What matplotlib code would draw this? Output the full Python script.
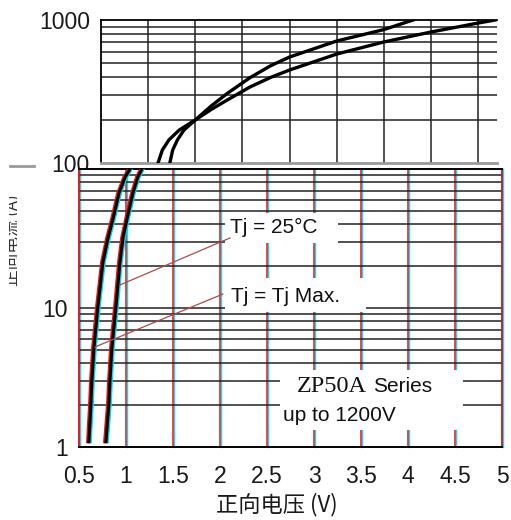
import numpy as np
import matplotlib
matplotlib.use('Agg')
import matplotlib.pyplot as plt
import matplotlib.transforms as mtransforms
from matplotlib.patches import Rectangle
from matplotlib.lines import Line2D

plt.rcParams['font.family'] = ['Liberation Sans', 'DejaVu Sans']

# Forward characteristic, 1 A .. 100 A section  (current in A, forward voltage in V)
i_25_low = [1.09, 2.07, 3.03, 5.2, 10.3, 21.4, 31.9, 43.7, 67, 87, 100]
v_25_low = [0.787, 0.819, 0.83, 0.851, 0.894, 0.936, 0.968, 1.011, 1.074, 1.125, 1.17]
i_max_low = [1.09, 2.07, 3.03, 5.2, 10.3, 21.4, 31.9, 43.7, 67, 87, 100]
v_max_low = [0.606, 0.628, 0.638, 0.66, 0.702, 0.755, 0.809, 0.862, 0.926, 0.99, 1.043]

# Forward characteristic, 100 A .. 1000 A section
i_25_high = [100, 123, 145, 170, 200, 251, 307, 395, 479, 551, 713, 857, 1000]
v_25_high = [1.23, 1.26, 1.31, 1.38, 1.50, 1.67, 1.84, 2.08, 2.3, 2.5, 3.0, 3.5, 3.81]
i_max_high = [100, 123, 145, 170, 200, 237, 276, 340, 397, 447, 578, 702, 824, 952, 1000]
v_max_high = [1.105, 1.15, 1.22, 1.33, 1.50, 1.67, 1.84, 2.08, 2.3, 2.5, 3.0, 3.5, 4.0, 4.5, 4.68]

x_ticks = [0.5, 1, 1.5, 2, 2.5, 3, 3.5, 4, 4.5, 5]
x_ticklabels = ['0.5', '1', '1.5', '2', '2.5', '3', '3.5', '4', '4.5', '5']
v_grid = [1.0, 1.5, 2.0, 2.5, 3.0, 3.5, 4.0, 4.5]
i_grid_low = [2, 3, 4, 5, 6, 7, 8, 9, 10, 20, 30, 40, 50, 60, 70, 80, 90]
i_grid_high = [200, 300, 400, 500, 600, 700, 800, 900]

W, H = 511, 520
fig = plt.figure(figsize=(W / 100, H / 100), dpi=100)

def px_axes(x0, y0, x1, y1):
    return fig.add_axes([x0 / W, (H - y1) / H, (x1 - x0) / W, (y1 - y0) / H])

FS = 16.5
GRID_LW = 1.1

# ---- upper part, 100 A .. 1000 A ----
axt = px_axes(101, 20, 497, 163)
axt.set_yscale('log')
axt.set_xlim(0.5, 4.70)
axt.set_ylim(100, 1000)
for v in v_grid:
    axt.axvline(v, color='#222222', lw=GRID_LW, zorder=1)
for c in i_grid_high:
    axt.axhline(c, color='#222222', lw=GRID_LW, zorder=1)
axt.plot(v_25_high, i_25_high, color='black', lw=2.4, zorder=3, solid_joinstyle='round')
axt.plot(v_max_high, i_max_high, color='black', lw=2.4, zorder=3, solid_joinstyle='round')
axt.set_xticks([])
axt.set_yticks([100, 1000])
axt.set_yticklabels(['100', '1000'])
axt.yaxis.set_minor_locator(matplotlib.ticker.NullLocator())
axt.tick_params(axis='y', length=0, pad=8, labelsize=FS, labelcolor='#1a1a1a')
axt.spines['right'].set_visible(False)
axt.spines['bottom'].set_color('#9a9a9a')
axt.spines['bottom'].set_linewidth(2)
for s in ['left', 'top']:
    axt.spines[s].set_linewidth(1.3)

# ---- lower part, 1 A .. 100 A ----
ax = px_axes(79, 169, 502, 447)
ax.set_yscale('log')
ax.set_xlim(0.5, 5)
ax.set_ylim(1, 100)

cyan_tr = mtransforms.offset_copy(ax.get_xaxis_transform(), fig=fig, x=1.3, y=0, units='dots')
for v in v_grid + [0.5, 5.0]:
    ax.plot([v, v], [0, 1], transform=cyan_tr, color='#00e5ee', lw=1.0, zorder=1, clip_on=False)
    ax.plot([v, v], [0, 1], transform=ax.get_xaxis_transform(), color='#e8101a', lw=1.1, zorder=1.1,
            clip_on=False)
for c in i_grid_low:
    ax.axhline(c, color='#222222', lw=GRID_LW, zorder=1.2)

red_tr = mtransforms.offset_copy(ax.transData, fig=fig, x=-1.5, y=0, units='dots')
cy_tr = mtransforms.offset_copy(ax.transData, fig=fig, x=1.5, y=0, units='dots')
for vv, ii in [(v_25_low, i_25_low), (v_max_low, i_max_low)]:
    ax.plot(vv, ii, color='#e8101a', lw=2.0, transform=red_tr, zorder=3)
    ax.plot(vv, ii, color='#00d8e8', lw=2.0, transform=cy_tr, zorder=3)
    ax.plot(vv, ii, color='black', lw=2.2, zorder=3.1, solid_joinstyle='round')

ax.set_xticks(x_ticks)
ax.set_xticklabels(x_ticklabels)
ax.set_yticks([1, 10])
ax.set_yticklabels(['1', '10'])
ax.yaxis.set_minor_locator(matplotlib.ticker.NullLocator())
ax.tick_params(axis='both', length=0, labelsize=FS, labelcolor='#1a1a1a')
ax.tick_params(axis='y', pad=8)
ax.tick_params(axis='x', pad=13)
for s in ['left', 'right']:
    ax.spines[s].set_color('#e8101a')
    ax.spines[s].set_linewidth(1.1)
for s in ['top', 'bottom']:
    ax.spines[s].set_linewidth(1.4)

# label boxes blank out the grid underneath
for (x0, y0, w, h) in [(0.345, 0.734, 0.267, 0.108),
                       (0.345, 0.486, 0.333, 0.122),
                       (0.475, 0.061, 0.433, 0.216)]:
    ax.add_patch(Rectangle((x0, y0), w, h, transform=ax.transAxes, facecolor='white',
                           edgecolor='none', zorder=4))

ax.text(0.357, 0.788, 'Tj = 25°C', transform=ax.transAxes, fontsize=15, va='center', ha='left',
        color='#111111', zorder=5)
ax.text(0.359, 0.540, 'Tj = Tj Max.', transform=ax.transAxes, fontsize=15, va='center', ha='left',
        color='#111111', zorder=5)
ax.plot([0.357, 0.097], [0.752, 0.583], transform=ax.transAxes, color='#b04848', lw=0.9, zorder=5)
ax.plot([0.340, 0.038], [0.550, 0.360], transform=ax.transAxes, color='#b04848', lw=0.9, zorder=5)

ax.text(0.515, 0.216, 'ZP50A', transform=ax.transAxes, fontsize=17.5, va='center', ha='left',
        family='Liberation Serif', color='#111111', zorder=5)
ax.text(0.694, 0.216, 'Series', transform=ax.transAxes, fontsize=15, va='center', ha='left',
        color='#111111', zorder=5)
ax.text(0.482, 0.115, 'up to 1200V', transform=ax.transAxes, fontsize=15, va='center', ha='left',
        color='#111111', zorder=5)

fig.text(277 / W, (H - 505) / H, '正向电压 (V)', fontsize=16, ha='center', va='center',
         family=['Noto Sans CJK SC', 'DejaVu Sans'], color='#1a1a1a')

# broken axis title on the left, only a thin strip of it survives
ylab = fig.text(13 / W, (H - 240) / H, '正向电流 (A)', fontsize=12, rotation=90, ha='center',
                va='center', family=['Noto Sans CJK SC', 'DejaVu Sans'], color='#333333')
ylab.set_clip_box(mtransforms.Bbox.from_extents(9, H - 305, 17, H - 175))
ylab.set_clip_on(True)

fig.add_artist(Line2D([10 / W, 34 / W], [(H - 166) / H, (H - 166) / H], color='#9a9a9a', lw=2))

fig.savefig('out.png', dpi=100)
